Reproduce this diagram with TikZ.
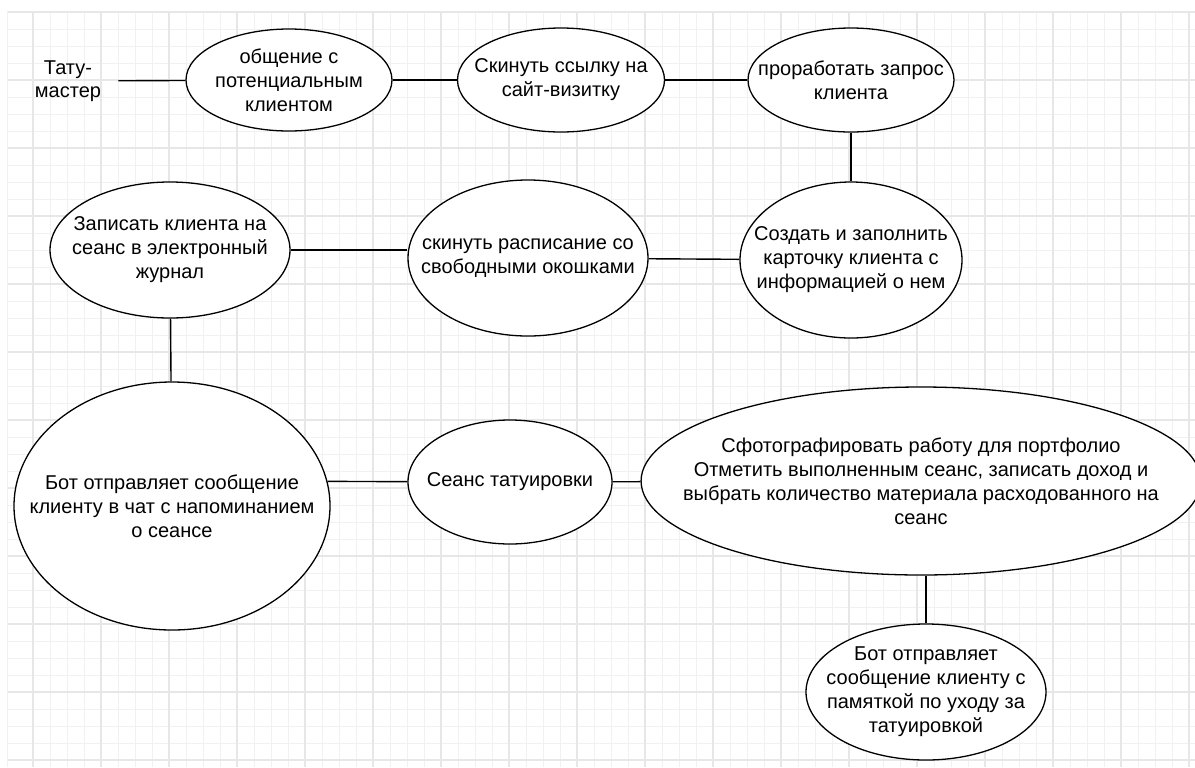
\documentclass[tikz,border=0pt]{standalone}
\usepackage{fontspec}
\setmainfont{Liberation Sans}
\usetikzlibrary{shapes.geometric}
\definecolor{gridminor}{HTML}{F1F1F1}
\definecolor{gridmajor}{HTML}{E7E7E7}
\tikzset{
  usecase/.style={
    ellipse,
    draw,
    fill=white,
    line width=0.65pt,
    align=center,
    inner xsep=-20pt, % size comes from minimum width/height only
    inner ysep=0pt,
    font=\fontsize{10}{12}\selectfont
  },
  actor/.style={
    rectangle,
    align=center,
    minimum width=50pt,
    inner sep=0pt,
    font=\fontsize{10}{11.75}\selectfont
  },
  connector/.style={line width=0.7pt}
}
\begin{document}
\begin{tikzpicture}[x=0.5pt, y=-0.5pt]
  \useasboundingbox[fill=white] (0,0) rectangle (1195,767);

  % grid
  \foreach \i in {0,...,68}
    \draw[gridminor, line width=0.5pt] ({33+17*\i},11) -- ({33+17*\i},767);
  \foreach \i in {0,...,44}
    \draw[gridminor, line width=0.5pt] (7,{12+17*\i}) -- (1195,{12+17*\i});
  \foreach \i in {0,...,17}
    \draw[gridmajor, line width=0.6pt] ({33+68*\i},11) -- ({33+68*\i},767);
  \foreach \i in {0,...,11}
    \draw[gridmajor, line width=0.6pt] (7,{12+68*\i}) -- (1195,{12+68*\i});
  \draw[gridminor, line width=0.5pt] (7,11) -- (7,767);

  \node[actor] (master) at (68,81) {Тату-\\мастер};
  \node[usecase, minimum width=103pt, minimum height=51pt] (talk) at (289,80)
        {общение с\\потенциальным\\клиентом};
  \node[usecase, minimum width=103.5pt, minimum height=52pt] (site) at (561,80)
        {Скинуть ссылку на\\сайт-визитку};
  \node[usecase, minimum width=103pt, minimum height=52pt] (request) at (851,80)
        {проработать запрос\\клиента};
  \node[usecase, minimum width=111pt, minimum height=78pt] (card) at (851,260)
        {Создать и заполнить\\карточку клиента с\\информацией о нем};
  \node[usecase, minimum width=120pt, minimum height=78pt] (slots) at (528,258)
        {скинуть расписание со\\свободными окошками};
  \node[usecase, minimum width=120pt, minimum height=68pt] (book) at (170,250)
        {Записать клиента на\\сеанс в электронный\\журнал};
  \node[usecase, minimum width=158pt, minimum height=124pt] (remind) at (172,506)
        {Бот отправляет сообщение\\клиенту в чат с напоминанием\\о сеансе};
  \node[usecase, minimum width=102pt, minimum height=62pt] (session) at (510,482)
        {Сеанс татуировки};
  \node[usecase, minimum width=251pt, minimum height=94pt] (finish) at (921,481)
        {Сфотографировать работу для портфолио\\Отметить выполненным сеанс, записать доход и\\выбрать количество материала расходованного на\\сеанс};
  \node[usecase, minimum width=120pt, minimum height=68pt] (care) at (926,692)
        {Бот отправляет\\сообщение клиенту с\\памяткой по уходу за\\татуировкой};

  \draw[connector] (master) -- (talk);
  \draw[connector] (talk) -- (site);
  \draw[connector] (site) -- (request);
  \draw[connector] (request) -- (card);
  \draw[connector] (card) -- (slots);
  \draw[connector] (book) -- (book -| slots.west);
  \draw[connector] (book) -- (remind);
  \draw[connector] (session) -- (remind.9);
  \draw[connector] (session) -- (finish);
  \draw[connector] (finish.south -| care.north) -- (care);
\end{tikzpicture}
\end{document}
